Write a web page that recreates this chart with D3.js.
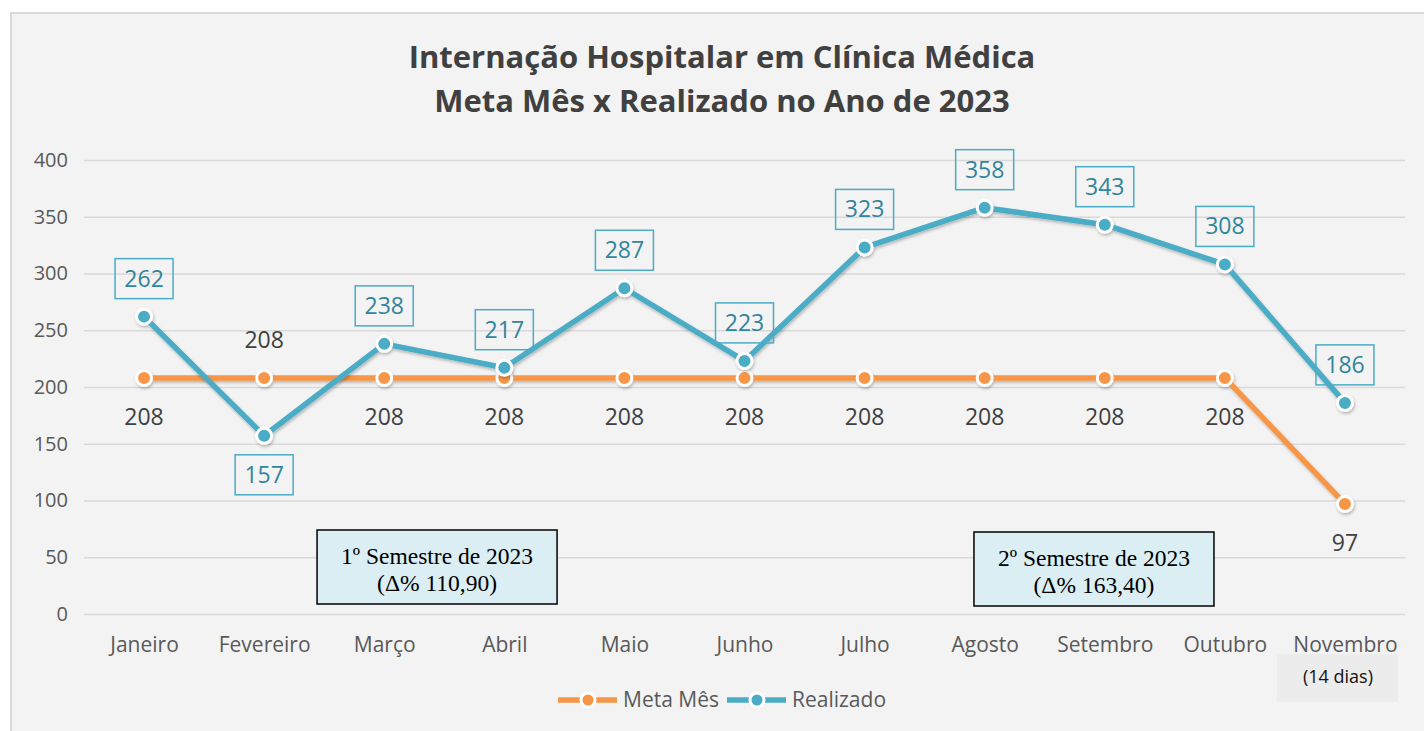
<!DOCTYPE html>
<html>
<head>
<meta charset="utf-8">
<script src="https://cdn.jsdelivr.net/npm/d3@7"></script>
<style>
  body { margin: 0; background: #ffffff; }
  text { font-family: "Open Sans", sans-serif; }
</style>
</head>
<body>
<script>
// chart data
var months = ["Janeiro", "Fevereiro", "Março", "Abril", "Maio", "Junho", "Julho", "Agosto", "Setembro", "Outubro", "Novembro"];
var meta = [208, 208, 208, 208, 208, 208, 208, 208, 208, 208, 97];
var realizado = [262, 157, 238, 217, 287, 223, 323, 358, 343, 308, 186];
var yTicks = [0, 50, 100, 150, 200, 250, 300, 350, 400];
var titleLines = ["Internação Hospitalar em Clínica Médica", "Meta Mês x Realizado no Ano de 2023"];
var seriesNames = ["Meta Mês", "Realizado"];
var semestres = [
  { at: 2.44, top: 530, lines: ["1º Semestre de 2023", "(Δ% 110,90)"] },
  { at: 7.91, top: 532, lines: ["2º Semestre de 2023", "(Δ% 163,40)"] }
];

var w = 1424, h = 731;
var orange = "#f79646", blue = "#4bacc6";

var svg = d3.select("body").append("svg")
  .attr("width", w)
  .attr("height", h);

// soft shadow under lines and markers
var filt = svg.append("defs").append("filter").attr("id", "shadow")
  .attr("x", "-20%").attr("y", "-20%").attr("width", "140%").attr("height", "140%");
filt.append("feDropShadow").attr("dx", 1).attr("dy", 2).attr("stdDeviation", 1.5)
  .attr("flood-color", "#000").attr("flood-opacity", 0.25);

// chart frame
svg.append("rect")
  .attr("x", 11).attr("y", 13)
  .attr("width", w + 10).attr("height", h + 10)
  .attr("fill", "#f3f3f3")
  .attr("stroke", "#d9d9d9")
  .attr("stroke-width", 2);

var x = d3.scalePoint().domain(months).range([84, 1405]).padding(0.5);
var y = d3.scaleLinear().domain([0, 400]).range([614, 160]);
var step = x.step();

// title
svg.append("g").selectAll("text").data(titleLines).enter().append("text")
  .attr("x", 722)
  .attr("y", function(d, i){ return 68 + i * 44; })
  .attr("text-anchor", "middle")
  .attr("font-size", 31)
  .attr("font-weight", "bold")
  .attr("fill", "#404040")
  .text(function(d){ return d; });

// y axis with gridlines
var yAxis = svg.append("g")
  .attr("transform", "translate(84,0)")
  .call(d3.axisLeft(y).tickValues(yTicks).tickSize(-1321).tickPadding(16));
yAxis.select(".domain").remove();
yAxis.selectAll("line").attr("stroke", "#d9d9d9").attr("stroke-width", 1.5);
yAxis.selectAll("text").attr("font-size", 20).attr("fill", "#595959")
  .style("font-family", "'Open Sans', sans-serif");

// x axis labels
var xAxis = svg.append("g")
  .attr("transform", "translate(0,614)")
  .call(d3.axisBottom(x).tickSize(0).tickPadding(23));
xAxis.select(".domain").remove();
xAxis.selectAll("text").attr("font-size", 21).attr("fill", "#595959")
  .style("font-family", "'Open Sans', sans-serif");

// "(14 dias)" note under Novembro
var last = months[months.length - 1];
svg.append("rect")
  .attr("x", x(last) - 68).attr("y", 654)
  .attr("width", 121).attr("height", 48)
  .attr("fill", "#ececec");
svg.append("text")
  .attr("x", x(last) - 7).attr("y", 683)
  .attr("text-anchor", "middle")
  .attr("font-size", 18)
  .attr("fill", "#111")
  .text("(14 dias)");

// semester notes
semestres.forEach(function(s){
  var cx = x(months[0]) + s.at * step;
  var g = svg.append("g");
  g.append("rect")
    .attr("x", cx - 120).attr("y", s.top)
    .attr("width", 240).attr("height", 74)
    .attr("fill", "#daeef3")
    .attr("stroke", "#000")
    .attr("stroke-width", 1.5);
  g.selectAll("text").data(s.lines).enter().append("text")
    .attr("x", cx)
    .attr("y", function(d, i){ return s.top + 34 + i * 27; })
    .attr("text-anchor", "middle")
    .attr("font-size", 23.5)
    .attr("fill", "#000")
    .style("font-family", "'Liberation Serif', 'Times New Roman', serif")
    .text(function(d){ return d; });
});

var line = d3.line()
  .x(function(d, i){ return x(months[i]); })
  .y(function(d){ return y(d); });

function drawSeries(values, color){
  var g = svg.append("g").attr("filter", "url(#shadow)");
  g.append("path")
    .datum(values)
    .attr("d", line)
    .attr("fill", "none")
    .attr("stroke", color)
    .attr("stroke-width", 5.5)
    .attr("stroke-linejoin", "round");
  g.selectAll("circle").data(values).enter().append("circle")
    .attr("cx", function(d, i){ return x(months[i]); })
    .attr("cy", function(d){ return y(d); })
    .attr("r", 7.5)
    .attr("fill", color)
    .attr("stroke", "#fff")
    .attr("stroke-width", 3);
}

drawSeries(meta, orange);
drawSeries(realizado, blue);

// meta labels (below, except where the other line passes under)
svg.append("g").selectAll("text").data(meta).enter().append("text")
  .attr("x", function(d, i){ return x(months[i]); })
  .attr("y", function(d, i){ return y(d) + (realizado[i] < d ? -30 : 47); })
  .attr("text-anchor", "middle")
  .attr("font-size", 23)
  .attr("fill", "#404040")
  .text(function(d){ return d; });

// realizado labels in boxes
var lab = svg.append("g").selectAll("g").data(realizado).enter().append("g")
  .attr("transform", function(d, i){
    var off = d < meta[i] && i === 1 ? 39 : -38;
    return "translate(" + x(months[i]) + "," + (y(d) + off) + ")";
  });
lab.append("rect")
  .attr("x", -29).attr("y", -20)
  .attr("width", 58).attr("height", 40)
  .attr("fill", "none")
  .attr("stroke", blue)
  .attr("stroke-width", 1.5);
lab.append("text")
  .attr("y", 8)
  .attr("text-anchor", "middle")
  .attr("font-size", 23)
  .attr("fill", "#31859c")
  .text(function(d){ return d; });

// legend
var legend = svg.append("g").selectAll("g").data(seriesNames).enter().append("g")
  .attr("transform", function(d, i){ return "translate(" + (558 + i * 169) + ",700)"; });
legend.append("line")
  .attr("x1", 0).attr("x2", 59)
  .attr("stroke", function(d, i){ return i === 0 ? orange : blue; })
  .attr("stroke-width", 5.5);
legend.append("circle")
  .attr("cx", 30).attr("r", 7)
  .attr("fill", function(d, i){ return i === 0 ? orange : blue; })
  .attr("stroke", "#fff").attr("stroke-width", 3);
legend.append("text")
  .attr("x", 65).attr("y", 7)
  .attr("font-size", 21)
  .attr("fill", "#595959")
  .text(function(d){ return d; });
</script>
</body>
</html>
